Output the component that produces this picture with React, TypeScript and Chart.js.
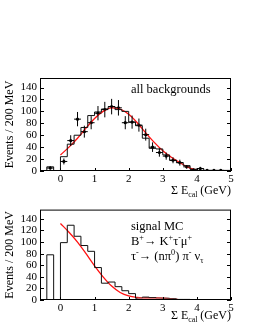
import React, { useEffect, useRef } from "react";
import { Chart, registerables } from "chart.js";
Chart.register(...registerables);

// ---------- data ----------
const X_TICKS = [0, 1, 2, 3, 4, 5];
const Y_TICKS = [0, 20, 40, 60, 80, 100, 120, 140];

// lower edges of 200 MeV bins
const BIN_LOW = [-0.6, -0.4, -0.2, 0, 0.2, 0.4, 0.6, 0.8, 1.0, 1.2, 1.4, 1.6, 1.8, 2.0, 2.2, 2.4, 2.6, 2.8, 3.0, 3.2, 3.4, 3.6, 3.8, 4.0, 4.2, 4.4, 4.6, 4.8];
const BIN_END = 5.0;

// top panel: all backgrounds (MC histogram)
const BKG_HIST = [0, 7, 0, 24, 45, 60, 73, 93, 99, 104, 108, 103, 100, 82, 76, 55, 38, 37, 27, 18, 14, 9, 3, 4, 1, 1, 1, 1];
// top panel: data points with errors
const BKG_DATA_X = [-0.3, 0.1, 0.3, 0.5, 0.7, 0.9, 1.1, 1.3, 1.5, 1.7, 1.9, 2.1, 2.3, 2.5, 2.7, 2.9, 3.1, 3.3, 3.5, 3.7, 3.9, 4.1, 4.3, 4.5, 4.7];
const BKG_DATA_Y = [5, 16, 51, 87, 66, 81, 97, 103, 108, 106, 81, 82, 77, 61, 40, 31, 25, 18, 14, 7, 2, 4, 1, 1, 1];
const BKG_DATA_ERR = [3, 5, 9, 12, 10, 11, 12, 13, 13, 13, 11, 11, 11, 10, 8, 7, 6, 5, 5, 3, 2, 3, 1.5, 1.5, 1.5];
// top panel: fit curve
const BKG_FIT_X = [0, 0.25, 0.5, 0.75, 1.0, 1.25, 1.5, 1.75, 2.0, 2.25, 2.5, 2.75, 3.0, 3.25, 3.5, 3.75, 4.0];
const BKG_FIT_Y = [27, 40, 55, 72, 88, 100, 106, 104, 95, 81, 64, 48, 34, 23, 14, 6, 1];

// bottom panel: signal MC histogram
const SIG_HIST = [0, 78, 0, 99, 129, 110, 94, 84, 56, 29, 31, 23, 16, 11, 3, 5, 4, 3, 3, 2, 1, 1, 0, 0, 0, 0, 0, 0];
// bottom panel: fit curve
const SIG_FIT_X = [0, 0.25, 0.5, 0.75, 1.0, 1.25, 1.5, 1.75, 2.0, 2.25, 2.5, 2.75, 3.0, 3.25, 3.5];
const SIG_FIT_Y = [132, 117, 100, 80, 59, 40, 24, 13, 7, 4.5, 3.5, 3.5, 3, 2, 0.5];
const SIG_FILL_FROM = 2.25;

const Y_MAX = 156;
const X_MIN = -0.6;
const X_MAX = 5;

// ---------- helpers ----------
const FONT = '"Liberation Serif", "Times New Roman", serif';
type Run = [string, number]; // 0 normal, 1 superscript, -1 subscript

function drawRich(ctx: CanvasRenderingContext2D, runs: Run[], x: number, y: number, size: number, align: "left" | "right") {
  const small = size * 0.65;
  let w = 0;
  for (const [t, m] of runs) {
    ctx.font = `${m ? small : size}px ${FONT}`;
    w += ctx.measureText(t).width;
  }
  let cx = align === "right" ? x - w : x;
  ctx.textAlign = "left";
  ctx.textBaseline = "alphabetic";
  ctx.fillStyle = "#000";
  for (const [t, m] of runs) {
    ctx.font = `${m ? small : size}px ${FONT}`;
    const dy = m === 1 ? -size * 0.4 : m === -1 ? size * 0.22 : 0;
    ctx.fillText(t, cx, y + dy);
    cx += ctx.measureText(t).width;
  }
}

function histPoints(vals: number[]) {
  const pts = BIN_LOW.map((x, i) => ({ x, y: vals[i] }));
  pts.push({ x: BIN_END, y: 0 });
  return pts;
}

interface PanelOpts {
  canvas: HTMLCanvasElement;
  padTop: number;
  xAxisH: number;
  hist: number[];
  fitX: number[];
  fitY: number[];
  dataX?: number[];
  dataY?: number[];
  dataErr?: number[];
  fillFrom?: number;
  labels: { runs: Run[]; x: number; y: number; size: number }[];
  xTitleY: number;
}

function makePanel(o: PanelOpts) {
  const datasets: any[] = [];
  if (o.fillFrom !== undefined) {
    const pts = o.fitX.map((x, i) => ({ x, y: o.fitY[i] })).filter((p) => p.x >= (o.fillFrom as number));
    datasets.push({
      data: pts,
      borderWidth: 0,
      borderColor: "rgba(0,0,0,0)",
      backgroundColor: "rgba(240,130,130,0.75)",
      fill: "origin",
      pointRadius: 0,
      cubicInterpolationMode: "monotone",
    });
  }
  datasets.push({
    data: histPoints(o.hist),
    stepped: "before",
    borderColor: "#111",
    borderWidth: 1,
    pointRadius: 0,
    fill: false,
  });
  datasets.push({
    data: o.fitX.map((x, i) => ({ x, y: o.fitY[i] })),
    borderColor: "#ff1010",
    borderWidth: 1.3,
    pointRadius: 0,
    fill: false,
    cubicInterpolationMode: "monotone",
  });
  if (o.dataX && o.dataY) {
    datasets.push({
      data: o.dataX.map((x, i) => ({ x, y: (o.dataY as number[])[i] })),
      showLine: false,
      pointRadius: 1.6,
      pointBackgroundColor: "#000",
      pointBorderColor: "#000",
      pointBorderWidth: 0,
    });
  }

  const framePlugin = {
    id: "frame",
    afterDatasetsDraw(chart: any) {
      const { ctx, chartArea: a, scales } = chart;
      const sx = scales.x, sy = scales.y;
      ctx.save();
      ctx.strokeStyle = "#000";
      ctx.lineWidth = 1;
      const line = (x1: number, y1: number, x2: number, y2: number) => {
        ctx.beginPath();
        ctx.moveTo(x1, y1);
        ctx.lineTo(x2, y2);
        ctx.stroke();
      };
      // error bars
      if (o.dataX && o.dataY && o.dataErr) {
        ctx.save();
        ctx.beginPath();
        ctx.rect(a.left, a.top, a.right - a.left, a.bottom - a.top);
        ctx.clip();
        o.dataX.forEach((x, i) => {
          const y = (o.dataY as number[])[i];
          const e = (o.dataErr as number[])[i];
          const px = sx.getPixelForValue(x);
          const py = sy.getPixelForValue(y);
          line(sx.getPixelForValue(x - 0.1), py, sx.getPixelForValue(x + 0.1), py);
          line(px, sy.getPixelForValue(y - e), px, sy.getPixelForValue(y + e));
        });
        ctx.restore();
      }
      // frame
      ctx.strokeRect(a.left + 0.5, a.top + 0.5, a.right - a.left - 1, a.bottom - a.top - 1);
      // y ticks (inside, both sides)
      for (const v of Y_TICKS) {
        const py = Math.round(sy.getPixelForValue(v)) + 0.5;
        line(a.left, py, a.left + 4, py);
        line(a.right - 4, py, a.right, py);
      }
      // x ticks
      for (const v of X_TICKS) {
        const px = Math.round(sx.getPixelForValue(v)) + 0.5;
        line(px, a.bottom, px, a.bottom - 3);
      }
      // texts
      for (const l of o.labels) drawRich(ctx, l.runs, l.x, l.y, l.size, "left");
      drawRich(ctx, [["\u03A3 E", 0], ["cal", -1], [" (GeV)", 0]], a.right, o.xTitleY, 12, "right");
      ctx.restore();
    },
  };

  return new Chart(o.canvas, {
    type: "line",
    data: { datasets },
    options: {
      animation: false,
      responsive: false,
      devicePixelRatio: 1,
      parsing: true,
      layout: { padding: { top: o.padTop, right: 27, left: 0, bottom: 0 } },
      plugins: { legend: { display: false }, tooltip: { enabled: false } },
      scales: {
        x: {
          type: "linear",
          min: X_MIN,
          max: X_MAX,
          grid: { display: false, drawTicks: false },
          border: { display: false },
          afterBuildTicks: (s: any) => {
            s.ticks = X_TICKS.map((v) => ({ value: v }));
          },
          afterFit: (s: any) => {
            s.height = o.xAxisH;
          },
          ticks: {
            color: "#000",
            font: { family: FONT, size: 11 },
            padding: 2,
            maxRotation: 0,
            autoSkip: false,
          },
        },
        y: {
          type: "linear",
          min: 0,
          max: Y_MAX,
          grid: { display: false, drawTicks: false },
          border: { display: false },
          afterBuildTicks: (s: any) => {
            s.ticks = Y_TICKS.map((v) => ({ value: v }));
          },
          afterFit: (s: any) => {
            s.width = 40;
          },
          ticks: {
            color: "#000",
            font: { family: FONT, size: 11 },
            padding: 3,
            autoSkip: false,
          },
          title: {
            display: true,
            text: "Events / 200 MeV",
            color: "#000",
            font: { family: FONT, size: 12 },
            padding: { top: 3, bottom: 0 },
          },
        },
      },
    } as any,
    plugins: [framePlugin],
  });
}

export default function App() {
  const topRef = useRef<HTMLCanvasElement>(null);
  const botRef = useRef<HTMLCanvasElement>(null);

  useEffect(() => {
    const top = makePanel({
      canvas: topRef.current as HTMLCanvasElement,
      padTop: 78,
      xAxisH: 29,
      hist: BKG_HIST,
      fitX: BKG_FIT_X,
      fitY: BKG_FIT_Y,
      dataX: BKG_DATA_X,
      dataY: BKG_DATA_Y,
      dataErr: BKG_DATA_ERR,
      labels: [{ runs: [["all backgrounds", 0]], x: 131, y: 93, size: 12.5 }],
      xTitleY: 194,
    });
    const bot = makePanel({
      canvas: botRef.current as HTMLCanvasElement,
      padTop: 5,
      xAxisH: 33,
      hist: SIG_HIST,
      fitX: SIG_FIT_X,
      fitY: SIG_FIT_Y,
      fillFrom: SIG_FILL_FROM,
      labels: [
        { runs: [["signal MC", 0]], x: 131, y: 30, size: 12.5 },
        {
          runs: [["B", 0], ["+", 1], ["\u2192 K", 0], ["+", 1], ["\u03C4", 0], ["-", 1], ["\u03BC", 0], ["+", 1]],
          x: 131,
          y: 45,
          size: 12.5,
        },
        {
          runs: [["\u03C4", 0], ["-", 1], ["\u2192 (n\u03C0", 0], ["0", 1], [") \u03C0", 0], ["-", 1], [" \u03BD", 0], ["\u03C4", -1]],
          x: 131,
          y: 60,
          size: 12.5,
        },
      ],
      xTitleY: 119,
    });
    return () => {
      top.destroy();
      bot.destroy();
    };
  }, []);

  return (
    <div style={{ position: "absolute", left: 0, top: 0, width: 258, height: 333, background: "#fff" }}>
      <canvas ref={topRef} width={258} height={200} style={{ position: "absolute", left: 0, top: 0 }} />
      <canvas ref={botRef} width={258} height={133} style={{ position: "absolute", left: 0, top: 200 }} />
    </div>
  );
}
